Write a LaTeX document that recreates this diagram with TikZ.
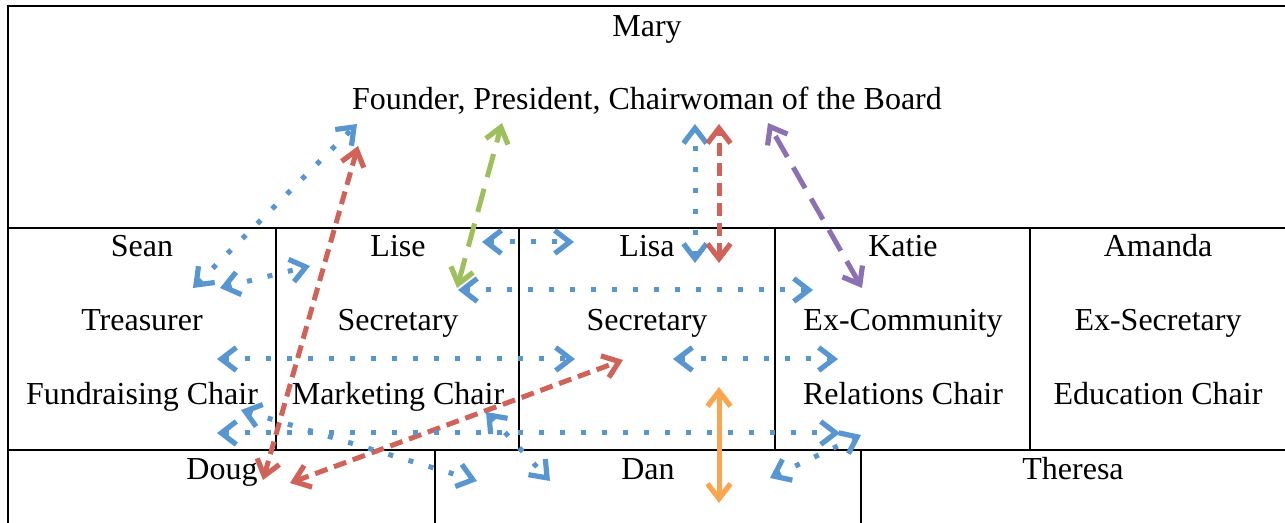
\documentclass[tikz,border=0pt]{standalone}
\usepackage{fontspec}
\setmainfont{Liberation Serif}
\usetikzlibrary{arrows.meta}
\definecolor{cblue}{RGB}{88,150,210}
\definecolor{cred}{RGB}{208,98,88}
\definecolor{cgreen}{RGB}{158,192,92}
\definecolor{cpurple}{RGB}{140,112,180}
\definecolor{corange}{RGB}{250,165,80}
\begin{document}
\begin{tikzpicture}[x=0.5pt,y=-0.5pt,
  font=\fontsize{16}{19}\selectfont,
  tbl/.style={line width=1.3pt, black},
  lbl/.style={anchor=base, inner sep=0pt},
  tipv/.tip={Straight Barb[length=7.5pt,width=11.5pt,line width=2.6pt]},
  conn/.style={line width=2.5pt, tipv-tipv},
  dotc/.style={conn, cblue, dash pattern=on 2.5pt off 8pt},
  dashc/.style={conn, cred, dash pattern=on 6.5pt off 3.5pt},
  longc/.style={conn, dash pattern=on 12pt off 6pt},
  solidc/.style={conn, corange}
]
\useasboundingbox (0,0) rectangle (1285,523);
% table lines
\draw[tbl] (1285,6) -- (8,6) -- (8,523);
\draw[tbl] (8,228) -- (1285,228);
\draw[tbl] (8,450) -- (1285,450);
\foreach \xx in {276,519,775,1030} \draw[tbl] (\xx,228) -- (\xx,450);
\foreach \xx in {435,861} \draw[tbl] (\xx,450) -- (\xx,523);
% texts
\node[lbl] (mary) at (647,37) {Mary};
\node[lbl] (founder) at (647,110) {Founder, President, Chairwoman of the Board};
\node[lbl] (sean) at (142,257) {Sean};
\node[lbl] (treas) at (142,331) {Treasurer};
\node[lbl] (fund) at (142,405) {Fundraising Chair};
\node[lbl] (lise) at (398,257) {Lise};
\node[lbl] (sec1) at (398,331) {Secretary};
\node[lbl] (mkt) at (398,405) {Marketing Chair};
\node[lbl] (lisa) at (647,257) {Lisa};
\node[lbl] (sec2) at (647,331) {Secretary};
\node[lbl] (katie) at (903,257) {Katie};
\node[lbl] (excom) at (903,331) {Ex-Community};
\node[lbl] (rel) at (903,405) {Relations Chair};
\node[lbl] (amanda) at (1158,257) {Amanda};
\node[lbl] (exsec) at (1158,331) {Ex-Secretary};
\node[lbl] (edu) at (1158,405) {Education Chair};
\node[lbl] (doug) at (222,480) {Doug};
\node[lbl] (dan) at (648,480) {Dan};
\node[lbl] (theresa) at (1073,480) {Theresa};
% connector end points
\coordinate (a1s) at (193,288);  \coordinate (a1e) at (357,124);
\coordinate (a2s) at (220,288);  \coordinate (a2e) at (310,266);
\coordinate (a3s) at (263,480);  \coordinate (a3e) at (358,146);
\coordinate (a4s) at (457,288);  \coordinate (a4e) at (502,123);
\coordinate (a5s) at (482,242);  \coordinate (a5e) at (574,242);
\coordinate (a6s) at (695,263);  \coordinate (a6e) at (695,124);
\coordinate (a7s) at (719,263);  \coordinate (a7e) at (719,124);
\coordinate (a8s) at (862,288);  \coordinate (a8e) at (768,123);
\coordinate (a9s) at (458,290);  \coordinate (a9e) at (813,290);
\coordinate (a10s) at (217,359); \coordinate (a10e) at (575,359);
\coordinate (a11s) at (673,359); \coordinate (a11e) at (838,359);
\coordinate (a12s) at (290,483); \coordinate (a12e) at (623,360);
\coordinate (a13s) at (719,387); \coordinate (a13e) at (719,503);
\coordinate (a14s) at (217,433); \coordinate (a14e) at (840,433);
\coordinate (a15s) at (241,410); \coordinate (a15e) at (477,481);
\coordinate (a16s) at (486,412); \coordinate (a16e) at (550,481);
\coordinate (a17s) at (770,478); \coordinate (a17e) at (861,435);
% connectors
\draw[dotc] (a1s) -- (a1e);
\draw[dotc] (a2s) -- (a2e);
\draw[dashc] (a3s) -- (a3e);
\draw[longc, cgreen] (a4s) -- (a4e);
\draw[dotc] (a5s) -- (a5e);
\draw[dotc] (a6s) -- (a6e);
\draw[dashc] (a7s) -- (a7e);
\draw[longc, cpurple] (a8s) -- (a8e);
\draw[dotc] (a9s) -- (a9e);
\draw[dotc] (a10s) -- (a10e);
\draw[dotc] (a11s) -- (a11e);
\draw[dashc] (a12s) -- (a12e);
\draw[solidc] (a13s) -- (a13e);
\draw[dotc] (a14s) -- (a14e);
\draw[dotc] (a15s) -- (a15e);
\draw[dotc] (a16s) -- (a16e);
\draw[dotc] (a17s) -- (a17e);
\end{tikzpicture}
\end{document}
